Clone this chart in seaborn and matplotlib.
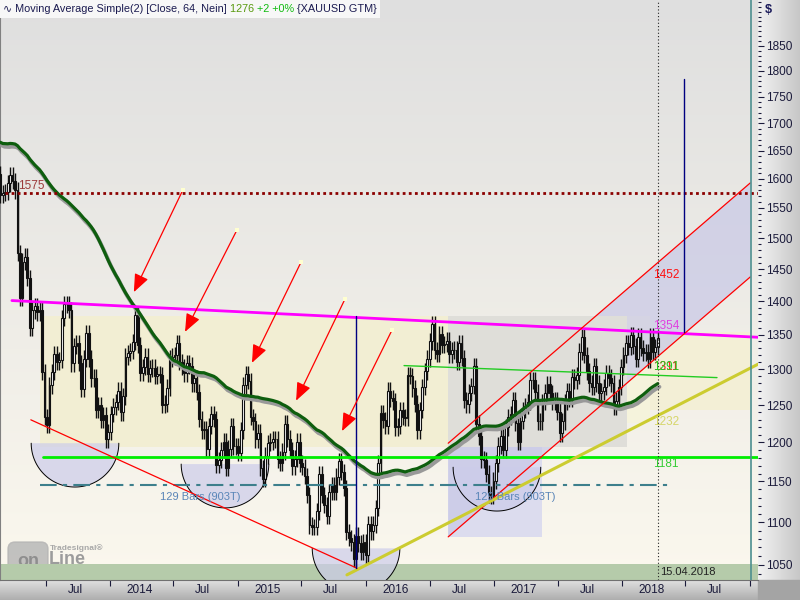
import numpy as np
import pandas as pd
import matplotlib
matplotlib.use("Agg")
import matplotlib.pyplot as plt
import matplotlib.dates as mdates
import matplotlib.patheffects as pe
from matplotlib.patches import Rectangle, FancyBboxPatch
from matplotlib.ticker import FixedLocator, FixedFormatter, NullFormatter, FuncFormatter
import seaborn as sns

# ------------------------------------------------------------
# Weekly closes XAUUSD (Fridays)
# ------------------------------------------------------------
# Dec 2011 - mid Feb 2013: not drawn, only feeds the 64-week SMA
close_hist = [1746, 1712, 1598, 1606, 1566,
              1617, 1631, 1665, 1738, 1725, 1725, 1724, 1775, 1710, 1712, 1659, 1662, 1668,
              1631, 1658, 1642, 1662, 1645, 1581, 1593, 1573, 1622, 1590, 1626, 1572, 1604,
              1579, 1590, 1584, 1621, 1604, 1620, 1616, 1671, 1691, 1739, 1769, 1773, 1774,
              1781, 1757, 1724, 1711, 1676, 1730, 1714, 1752, 1711, 1703, 1696, 1658, 1656,
              1656, 1661, 1687, 1658, 1667, 1667, 1609]
close_2013 = [1572, 1576, 1577, 1592, 1607, 1596, 1580, 1476, 1405, 1462,
              1470, 1436, 1360, 1386, 1392, 1383, 1387, 1296, 1234, 1223,
              1277, 1296, 1322, 1310, 1313, 1375, 1396, 1395, 1387, 1308,
              1333, 1338, 1309, 1272, 1315, 1352, 1315, 1287, 1288, 1243,
              1250, 1230, 1236, 1204, 1214]
close_2014 = [1238, 1248, 1254, 1270, 1240, 1262, 1318, 1323, 1326, 1339,
              1379, 1335, 1295, 1303, 1318, 1293, 1301, 1302, 1290, 1293,
              1292, 1250, 1252, 1274, 1315, 1318, 1320, 1337, 1310, 1303,
              1294, 1309, 1305, 1280, 1287, 1268, 1231, 1216, 1218, 1192,
              1222, 1238, 1231, 1171, 1177, 1190, 1201, 1167, 1192, 1222,
              1195, 1195]
close_2015 = [1186, 1216, 1277, 1293, 1283, 1234, 1228, 1204, 1213, 1167,
              1153, 1183, 1199, 1201, 1204, 1204, 1178, 1174, 1188, 1225,
              1205, 1190, 1169, 1179, 1201, 1173, 1168, 1157, 1133, 1096,
              1094, 1094, 1113, 1159, 1133, 1121, 1108, 1137, 1145, 1137,
              1156, 1176, 1162, 1142, 1088, 1081, 1076, 1057, 1084, 1075,
              1065, 1076]
close_2016 = [1061, 1098, 1089, 1097, 1117, 1173, 1239, 1230, 1222, 1270,
              1259, 1255, 1220, 1222, 1243, 1234, 1233, 1292, 1290, 1273,
              1252, 1216, 1243, 1275, 1297, 1315, 1340, 1366, 1327, 1322,
              1351, 1335, 1336, 1341, 1321, 1327, 1328, 1310, 1338, 1316,
              1257, 1251, 1267, 1276, 1304, 1225, 1208, 1178, 1177, 1160,
              1134, 1132, 1151]
close_2017 = [1173, 1196, 1209, 1190, 1220, 1234, 1238, 1257, 1226, 1201,
              1229, 1243, 1249, 1254, 1285, 1284, 1268, 1228, 1228, 1254,
              1267, 1279, 1266, 1254, 1256, 1241, 1212, 1228, 1254, 1269,
              1258, 1289, 1284, 1291, 1325, 1346, 1320, 1297, 1280, 1275,
              1304, 1280, 1266, 1269, 1275, 1294, 1288, 1280, 1248, 1256,
              1275, 1303]
close_2018 = [1320, 1338, 1332, 1349, 1333, 1315, 1347, 1330, 1323, 1324,
              1314, 1347, 1325, 1332, 1345]

first_week = "2011-12-02"
view_start, view_end = "2013-02-21", "2019-01-24"
price_bottom, price_top = 1032.7, 1945

# drawing tools on the chart (dates / prices)
resist_dates, resist_prices = ["2013-03-27", "2019-01-24"], [1401, 1346]
level_red, level_red_from = 1575, "2013-03-07"
level_green, level_green_from = 1181, "2013-06-24"
level_teal, level_teal_dates = 1145, ["2013-06-15", "2018-05-12"]
thin_green_dates, thin_green_prices = ["2016-04-19", "2018-09-29"], [1305, 1288]
chan_dates = ["2016-08-23", "2019-01-02"]
chan_upper, chan_lower = [1199, 1593], [1082.5, 1437.6]
support_dates, support_prices = ["2015-11-08", "2019-01-24"], [1038.5, 1307]
down_dates, down_prices = ["2013-05-20", "2015-12-07"], [1230, 1046]
arrow_from_dates = ["2014-07-28", "2014-12-29", "2015-06-30", "2015-11-03", "2016-03-16"]
arrow_from_prices = [1581, 1513, 1461, 1404, 1357]
arrow_to_dates = ["2014-03-10", "2014-08-03", "2015-02-10", "2015-06-16", "2015-10-25"]
arrow_to_prices = [1414, 1354, 1309, 1256, 1215]
vline_dates, vline_tops, vline_bottoms = ["2015-12-04", "2018-06-27"], [1378, 1785], [1046, 1354]
bowl_dates = ["2013-09-23", "2014-11-25", "2015-12-04", "2017-01-09"]
bowl_prices = [1199, 1172, 1069, 1168]
# rectangles: start, end, low, high (the gray one sits above the channel fill)
zone_starts = ["2013-06-15", "2018-01-15", "2018-03-21", "2016-08-23"]
zone_ends = ["2018-01-15", "2018-03-21", "2019-01-02", "2017-05-18"]
zone_lows = [1194, 1226, 1243, 1082.5]
zone_highs = [1377, 1377, 1354, 1194]
zone_colors = ["#f2eed3", "#f5f3dc", "#f3efd6", "#dcdcee"]
gray_zone = ("2016-08-23", "2018-01-15", 1194, 1377)
band_top = 1051
end_labels = ["1452", "1354", "1311", "1291", "1232", "1181"]
end_label_prices = [1441, 1362, 1303, 1303, 1227, 1172]
end_label_colors = ["#ff1010", "#e040e0", "#ff1010", "#22cc22", "#d6d66a", "#33cc33"]
tick_starts = ["2013-07-01", "2014-01-01", "2014-07-01", "2015-01-01", "2015-07-01", "2016-01-01",
               "2016-07-01", "2017-01-01", "2017-07-01", "2018-01-01", "2018-07-01", "2019-01-01"]
tick_labels = ["Jul", "2014", "Jul", "2015", "Jul", "2016", "Jul", "2017", "Jul", "2018", "Jul"]
price_ticks = list(range(1050, 1851, 50))


def d(s):
    return mdates.date2num(pd.Timestamp(s))


# ------------------------------------------------------------
# Build OHLC frame + SMA(64)
# ------------------------------------------------------------
closes = close_hist + close_2013 + close_2014 + close_2015 + close_2016 + close_2017 + close_2018
df = pd.DataFrame({"date": pd.date_range(first_week, periods=len(closes), freq="7D"),
                   "close": closes})
df["sma"] = df["close"].rolling(64).mean()
df["open"] = df["close"].shift(1)
df = df[df["date"] >= view_start].copy()
df["x"] = mdates.date2num(df["date"])
df["top"] = df[["open", "close"]].max(axis=1)
df["bot"] = df[["open", "close"]].min(axis=1)
df["high"] = df["top"] * 1.009
df["low"] = df["bot"] * 0.991

sns.set_style("white")
plt.rcParams["font.family"] = ["Liberation Sans", "DejaVu Sans"]

fig = plt.figure(figsize=(8, 6), dpi=100)

# background (pixel space): plot gradient + axis strips
bg = fig.add_axes([0, 0, 1, 1], zorder=0)
g = np.linspace(0, 1, 256)
top_c, bot_c = np.array([0.875, 0.875, 0.875]), np.array([0.985, 0.972, 0.932])
bg.imshow((top_c + (bot_c - top_c) * g[:, None])[:, None, :], extent=[0, 758, 580, 0], aspect="auto")
rs = 0.95 - 0.17 * g
bg.imshow(np.stack([rs, rs, rs], axis=-1)[None, :, :], extent=[758, 800, 580, 0], aspect="auto")
bs = 0.88 - 0.2 * g
bg.imshow(np.stack([bs, bs, bs], axis=-1)[:, None, :], extent=[0, 758, 600, 580], aspect="auto")
bg.add_patch(Rectangle((758, 580), 42, 20, color="#a4a4a4"))
bg.set_xlim(0, 800)
bg.set_ylim(600, 0)
bg.axis("off")

ax = fig.add_axes([0, 20 / 600, 758 / 800, 580 / 600], zorder=1)
ax.set_facecolor("none")
ax.set_yscale("log")

# zones
for s, e, lo, hi, c in zip(zone_starts, zone_ends, zone_lows, zone_highs, zone_colors):
    ax.add_patch(Rectangle((d(s), lo), d(e) - d(s), hi - lo, color=c, lw=0, zorder=1))
ax.axhspan(price_bottom, band_top, color="#b5cbaa", lw=0, zorder=1)

# channel fill, gray zone on top of it
cx = [d(s) for s in chan_dates]
ax.fill(cx + cx[::-1], chan_upper + chan_lower[::-1], color="#c8c8e6", alpha=0.7, lw=0, zorder=1.5)
ax.add_patch(Rectangle((d(gray_zone[0]), gray_zone[2]), d(gray_zone[1]) - d(gray_zone[0]),
                       gray_zone[3] - gray_zone[2], color="#dfded9", lw=0, zorder=1.6))

# bowls
th = np.linspace(0, np.pi, 80)
for bd, bp in zip(bowl_dates, bowl_prices):
    bx = d(bd) + 125 * np.cos(th)
    by = bp / 1.049 ** np.sin(th)
    ax.fill(bx, by, color="#ccccea", alpha=0.7, lw=0, zorder=2)
    ax.plot(bx, by, color="black", lw=0.7, zorder=6)

# candles
up = df["close"] >= df["open"]
ax.vlines(df["x"], df["low"], df["high"], color="#111111", lw=1.0, zorder=4)
ax.bar(df["x"][up], (df["top"] - df["bot"])[up], bottom=df["bot"][up], width=5.0,
       facecolor="white", edgecolor="#111111", lw=0.8, zorder=5)
ax.bar(df["x"][~up], (df["top"] - df["bot"])[~up], bottom=df["bot"][~up], width=5.0,
       facecolor="#111111", edgecolor="#111111", lw=0.8, zorder=5)

# 64-week SMA with shadow
sns.lineplot(data=df, x="x", y="sma", ax=ax, color="#0e5e0e", lw=2.3, legend=False, zorder=6,
             path_effects=[pe.SimpleLineShadow(offset=(1.2, -2.3), shadow_color="#999999",
                                               alpha=1.0, linewidth=2.8), pe.Normal()])

# lines
x_end = d(view_end)
ax.plot([d(s) for s in resist_dates], resist_prices, color="#ff00ff", lw=2.0, zorder=7)
ax.plot([d(level_red_from), x_end], [level_red] * 2, color="#8b0000", lw=2.0,
        linestyle=(0, (1, 1.2)), zorder=7)
ax.plot([d(level_green_from), x_end], [level_green] * 2, color="#00ee00", lw=2.0, zorder=7)
ax.plot([d(s) for s in level_teal_dates], [level_teal] * 2, color="#3d7f8c", lw=1.5,
        linestyle=(0, (8, 3, 2, 3)), zorder=7)
ax.plot([d(s) for s in thin_green_dates], thin_green_prices, color="#22cc22", lw=1.0, zorder=7)
ax.plot(cx, chan_upper, color="#ff0000", lw=0.9, zorder=7)
ax.plot(cx, chan_lower, color="#ff0000", lw=0.9, zorder=7)
ax.plot([d(s) for s in support_dates], support_prices, color="#cccc30", lw=2.2, zorder=7)
ax.plot([d(s) for s in down_dates], down_prices, color="#ff0000", lw=0.9, zorder=7)
for vd, vt, vb in zip(vline_dates, vline_tops, vline_bottoms):
    ax.plot([d(vd)] * 2, [vb, vt], color="#000080", lw=1.0, zorder=7)
ax.axvline(d("2018-04-15"), color="#222222", lw=0.8, linestyle=(0, (1, 2)), zorder=7)
ax.axvline(d("2019-01-04"), color="#4d8f8f", lw=1.2, zorder=7)

# arrows
for fd, fp, td, tp in zip(arrow_from_dates, arrow_from_prices, arrow_to_dates, arrow_to_prices):
    ax.annotate("", xy=(d(td), tp), xytext=(d(fd), fp), zorder=8,
                arrowprops=dict(arrowstyle="-|>,head_length=1.1,head_width=0.45",
                                color="#ff0000", lw=0.9, shrinkA=0, shrinkB=0))
ax.scatter([d(s) for s in arrow_from_dates], arrow_from_prices, marker="s", s=10,
           color="#ffffd0", lw=0, zorder=8)

# labels
for lab, lp, lc in zip(end_labels, end_label_prices, end_label_colors):
    ax.text(d("2018-03-31"), lp, lab, color=lc, fontsize=8.5, va="center", ha="left", zorder=9)
ax.text(d("2013-04-13"), 1588, "1575", color="#9c3a3a", fontsize=8.5, va="center", zorder=9)
for bd in ["2014-09-15", "2017-03-02"]:
    ax.text(d(bd), 1131, "129 Bars (903T)", color="#5a86b8", fontsize=8, ha="center",
            va="center", zorder=9)
ax.text(d("2018-04-20"), 1041.7, "15.04.2018", color="#222222", fontsize=8, va="center", zorder=9)

# axes
ax.set_xlim(d(view_start), x_end)
ax.set_ylim(price_bottom, price_top)
ax.yaxis.tick_right()
ax.yaxis.set_major_locator(FixedLocator(price_ticks))
ax.yaxis.set_minor_locator(FixedLocator(range(1040, 1950, 10)))
ax.yaxis.set_major_formatter(FuncFormatter(lambda v, p: f"{v:.0f}"))
ax.yaxis.set_minor_formatter(NullFormatter())
ax.tick_params(axis="y", which="major", direction="out", length=4, width=0.8, colors="#1a1a3a",
               labelsize=8.5, pad=2, right=True, left=False)
ax.tick_params(axis="y", which="minor", direction="out", length=2, width=0.8, colors="#1a1a3a",
               right=True, left=False)

tick_x = [d(s) for s in tick_starts]
ax.xaxis.set_major_locator(FixedLocator(tick_x))
ax.xaxis.set_major_formatter(NullFormatter())
ax.xaxis.set_minor_locator(FixedLocator([t + 84 for t in tick_x[:-1]]))
ax.xaxis.set_minor_formatter(FixedFormatter(tick_labels))
ax.tick_params(axis="x", which="major", direction="out", length=4, width=0.8, colors="#1a1a3a",
               bottom=True)
ax.tick_params(axis="x", which="minor", length=0, labelsize=8.5, pad=3, colors="#1a1a3a",
               bottom=True)
for side in ["top", "right"]:
    ax.spines[side].set_visible(False)
ax.spines["left"].set_color("#808080")
ax.spines["bottom"].set_color("#707070")
ax.set_xlabel("")
ax.set_ylabel("")

# logo watermark
bg.add_patch(FancyBboxPatch((8, 542), 40, 30, boxstyle="round,pad=0,rounding_size=7",
                            color="#b4b4b4", alpha=0.8, zorder=3))
bg.text(28, 561, "on", fontsize=13, fontweight="bold", color="#8e8e8e", ha="center",
        va="center", zorder=4)
bg.text(49, 559, "Line", fontsize=13, fontweight="bold", color="#9c9c9c", va="center", zorder=4)
bg.text(50, 548, "Tradesignal\u00ae", fontsize=6, fontweight="bold", color="#a8a8a8",
        va="center", zorder=4)

# title bar
fig.add_artist(Rectangle((0, 1 - 18 / 600), 380 / 800, 18 / 600, transform=fig.transFigure,
                         facecolor="#f7f7f7", edgecolor="none", zorder=5))
renderer = fig.canvas.get_renderer()
tx = 3 / 800
for part, col in zip(["\u223f Moving Average Simple(2) [Close, 64, Nein] ", "1276 ", "+2 +0% ",
                      "{XAUUSD GTM}"], ["#1a1a50", "#5a9a10", "#10bb10", "#1a1a50"]):
    t = fig.text(tx, 1 - 9 / 600, part, fontsize=7.8, color=col, va="center", ha="left", zorder=6)
    tx = t.get_window_extent(renderer).x1 / 800
fig.text(765 / 800, 1 - 10 / 600, "$", fontsize=9, fontweight="bold", color="#1a1a5a",
         va="center", zorder=6)

fig.savefig("out.png", dpi=100)
